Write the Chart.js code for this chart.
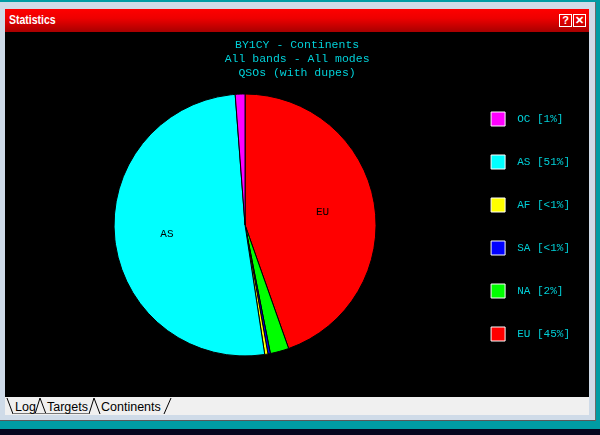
<!DOCTYPE html>
<html>
<head>
<meta charset="utf-8">
<script src="https://cdn.jsdelivr.net/npm/chart.js"></script>
<style>
  html, body { margin: 0; padding: 0; }
  body { width: 600px; height: 435px; background: #06061e; position: relative; overflow: hidden; }
  .teal { position: absolute; left: 0; top: 0; width: 600px; height: 429px; background: #009ca4; }
  .frame { position: absolute; left: 0; top: 2px; width: 595px; height: 418px; background: #cfdbe8;
           border-right: 1px solid #6a6a6a; border-bottom: 1px solid #5a5a5a; }
  .titlebar { position: absolute; left: 5px; top: 9px; width: 584px; height: 23px;
              background: linear-gradient(#ff0000, #ee0000 40%, #a80000); }
  .titlebar .cap { position: absolute; left: 4px; top: 4px; color: #fff; font: bold 12.5px "Liberation Sans", Arial, sans-serif;
                   transform: scaleX(0.84); transform-origin: left center; }
  .btn { position: absolute; top: 5px; width: 11px; height: 11px; border: 1px solid #fff; color: #fff;
         font: bold 11px "Liberation Sans", Arial, sans-serif; line-height: 11px; text-align: center; }
  .plot { position: absolute; left: 5px; top: 32px; width: 584px; height: 365px; background: #000; }
  .tabs { position: absolute; left: 5px; top: 397px; width: 584px; height: 18px; background: #f0f0f0; }
</style>
</head>
<body>
<div class="teal"></div>
<div class="frame"></div>
<div class="titlebar">
  <div class="cap">Statistics</div>
  <div class="btn" style="left:554px">?</div>
  <div class="btn" style="left:568px">✕</div>
</div>
<div class="plot"><canvas id="pie" width="584" height="365"></canvas></div>
<div class="tabs">
  <svg width="584" height="18" style="position:absolute;left:0;top:0">
    <g stroke="#000" stroke-width="1" fill="none">
      <polyline points="2,1 8,17"/>
      <polyline points="30,17 35,1 41,17"/>
      <polyline points="84,17 89,1 95,17"/>
      <polyline points="159,17 166,1"/>
      <line x1="8" y1="16.5" x2="84" y2="16.5" stroke="#777"/>
    </g>
    <g font-family="Liberation Sans, Arial, sans-serif" font-size="12.5" fill="#000">
      <text x="10" y="13.5">Log</text>
      <text x="42" y="13.5">Targets</text>
      <text x="96" y="13.5">Continents</text>
    </g>
  </svg>
</div>

<script>
// clockwise from 12 o'clock
const continents = ['EU', 'NA', 'SA', 'AF', 'AS', 'OC'];
const qsoShare = [44.6, 2.3, 0.3, 0.4, 51.2, 1.2];
const legendText = ['EU [45%]', 'NA [2%]', 'SA [<1%]', 'AF [<1%]', 'AS [51%]', 'OC [1%]'];
const sliceColors = ['#ff0000', '#00ff00', '#0000ff', '#ffff00', '#00ffff', '#ff00ff'];
const titleLines = ['BY1CY - Continents', 'All bands - All modes', 'QSOs (with dupes)'];

const CYAN = '#00d0d8';
const MONO = '"Liberation Mono", "DejaVu Sans Mono", monospace';

// names written inside the big slices
const sliceNames = {
  id: 'sliceNames',
  afterDatasetsDraw(chart) {
    const ctx = chart.ctx;
    const arcs = chart.getDatasetMeta(0).data;
    ctx.save();
    ctx.font = '11px ' + MONO;
    ctx.fillStyle = '#000';
    ctx.textAlign = 'center';
    ctx.textBaseline = 'middle';
    arcs.forEach((arc, i) => {
      if (qsoShare[i] < 10) return;
      const p = arc.getProps(['x', 'y', 'startAngle', 'endAngle', 'outerRadius'], true);
      const mid = (p.startAngle + p.endAngle) / 2;
      const r = p.outerRadius * 0.6;
      ctx.fillText(continents[i], p.x + Math.cos(mid) * r, p.y + Math.sin(mid) * r);
    });
    ctx.restore();
  }
};

new Chart(document.getElementById('pie'), {
  type: 'pie',
  data: {
    labels: continents,
    datasets: [{
      data: qsoShare,
      backgroundColor: sliceColors,
      borderColor: '#000',
      borderWidth: 1,
      radius: 131
    }]
  },
  options: {
    responsive: false,
    animation: false,
    layout: { padding: { left: 23, right: 9, top: 0, bottom: 27 } },
    plugins: {
      tooltip: { enabled: false },
      title: {
        display: true,
        // trailing spaces nudge the centred block left, like the original
        text: titleLines.map(t => t + '  '),
        color: CYAN,
        font: { family: MONO, size: 11.5, weight: 'normal', lineHeight: 14 / 11.5 },
        padding: { top: 6, bottom: 0 }
      },
      legend: {
        position: 'right',
        align: 'end',
        reverse: true,
        labels: {
          boxWidth: 14,
          boxHeight: 14,
          padding: 29,
          color: CYAN,
          font: { family: MONO, size: 11 },
          generateLabels: (chart) => continents.map((c, i) => ({
            text: ' ' + legendText[i],
            fillStyle: sliceColors[i],
            strokeStyle: '#fff',
            lineWidth: 1,
            fontColor: CYAN,
            hidden: false,
            index: i,
            datasetIndex: 0
          }))
        }
      }
    }
  },
  plugins: [sliceNames]
});
</script>
</body>
</html>
